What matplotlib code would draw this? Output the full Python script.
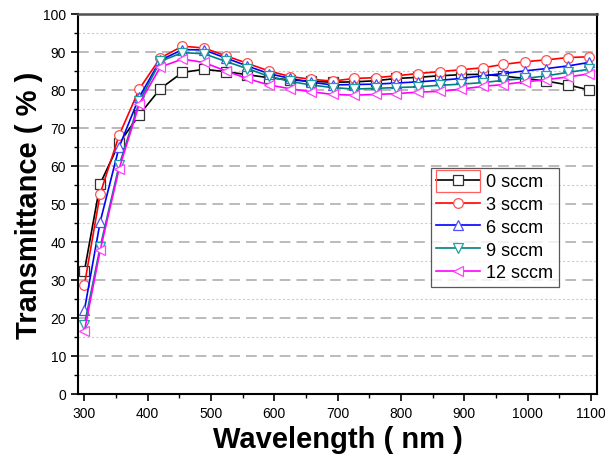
import numpy as np
import matplotlib.pyplot as plt
from matplotlib.patches import Rectangle
from matplotlib.ticker import MultipleLocator

plt.rcParams['font.family'] = ['Liberation Sans', 'DejaVu Sans']

# Longitudes de onda (nm)
wavelength = [300, 325, 355, 387, 420, 455, 489, 523, 557, 591, 625, 658, 692,
              726, 760, 793, 827, 861, 895, 929, 962, 996, 1030, 1064, 1097]

# Transmitancia (%) para cada flujo
t_0 = [32.3, 55.3, 66.0, 73.5, 80.3, 84.6, 85.4, 84.8, 84.0, 83.2, 82.6, 82.3, 82.0,
       82.1, 82.4, 83.0, 83.3, 83.7, 84.0, 84.1, 83.6, 83.0, 82.3, 81.3, 80.0]
t_3 = [28.6, 52.7, 68.1, 80.3, 88.4, 91.5, 91.0, 89.0, 87.0, 85.0, 83.5, 82.8, 82.3,
       83.0, 83.2, 83.7, 84.3, 84.8, 85.3, 85.8, 86.7, 87.4, 87.9, 88.5, 88.7]
t_6 = [22.0, 45.3, 65.0, 78.2, 87.8, 90.6, 90.5, 88.4, 86.3, 84.3, 83.0, 82.0, 81.3,
       81.4, 81.5, 81.8, 82.1, 82.5, 83.0, 83.7, 84.3, 85.0, 85.6, 86.3, 87.2]
t_9 = [18.1, 38.7, 60.2, 77.0, 87.5, 89.8, 89.5, 87.5, 85.6, 83.6, 82.2, 81.3, 80.6,
       80.2, 80.4, 80.6, 80.8, 81.2, 81.5, 81.9, 82.5, 83.0, 83.7, 84.6, 85.4]
t_12 = [16.5, 37.8, 59.3, 76.4, 86.0, 88.1, 87.2, 85.0, 83.0, 81.3, 80.3, 79.5, 78.8,
        78.6, 78.8, 79.0, 79.4, 79.6, 80.2, 80.9, 81.4, 82.1, 82.7, 83.4, 84.2]

labels = ['0 sccm', '3 sccm', '6 sccm', '9 sccm', '12 sccm']
series = [t_0, t_3, t_6, t_9, t_12]
colors = ['#000000', '#ff0000', '#0000ff', '#008080', '#ff00ff']
edge_colors = ['#303030', '#ff5050', '#5050ff', '#20a0a0', '#ff40ff']
markers = ['s', 'o', '^', 'v', '<']

fig = plt.figure(figsize=(6.05, 4.64), dpi=100)
ax = fig.add_axes([0.129, 0.149, 0.858, 0.819])

# Rejilla horizontal: mayores discontinuas, menores punteadas
for y in range(10, 100, 10):
    ax.axhline(y, color='#a8a8a8', lw=1.1, ls=(0, (7, 4)), zorder=0)
for y in range(5, 100, 10):
    ax.axhline(y, color='#cccccc', lw=0.8, ls=(0, (2, 2)), zorder=0)

for vals, lab, c, ec, m in zip(series, labels, colors, edge_colors, markers):
    ax.plot(wavelength, vals, color=c, lw=1.2, marker=m, markersize=7,
            markerfacecolor='white', markeredgecolor=ec, markeredgewidth=0.9,
            label=lab)

ax.set_xlim(290, 1110)
ax.set_ylim(0, 100)
ax.xaxis.set_major_locator(MultipleLocator(100))
ax.xaxis.set_minor_locator(MultipleLocator(50))
ax.yaxis.set_major_locator(MultipleLocator(10))
ax.yaxis.set_minor_locator(MultipleLocator(5))
ax.tick_params(which='major', direction='out', length=5, width=1.2, labelsize=10)
ax.tick_params(which='minor', direction='out', length=3, width=1.0)
ax.tick_params(top=False, right=False, which='both')

for s in ['left', 'bottom', 'right']:
    ax.spines[s].set_linewidth(1.5)
    ax.spines[s].set_color('black')
ax.spines['top'].set_linewidth(1.8)
ax.spines['top'].set_color('#505050')

ax.set_xlabel('Wavelength ( nm )', fontsize=21, fontweight='bold', labelpad=4)
ax.set_ylabel('Transmittance ( % )', fontsize=21, fontweight='bold', labelpad=0)

leg = ax.legend(loc='upper left', bbox_to_anchor=(0.68, 0.595), fontsize=13,
                frameon=True, fancybox=False, edgecolor='#303030',
                handlelength=2.4, handletextpad=0.35, labelspacing=0.32,
                borderpad=0.3, borderaxespad=0)
leg.get_frame().set_linewidth(0.9)

# Recuadro rojo alrededor de la primera entrada
fig.patches.append(Rectangle((436 / 605, 1 - 193 / 464), 44 / 605, 22 / 464,
                             transform=fig.transFigure, fill=False,
                             edgecolor='#ff6060', lw=0.9))

plt.savefig('out.png', dpi=100)
